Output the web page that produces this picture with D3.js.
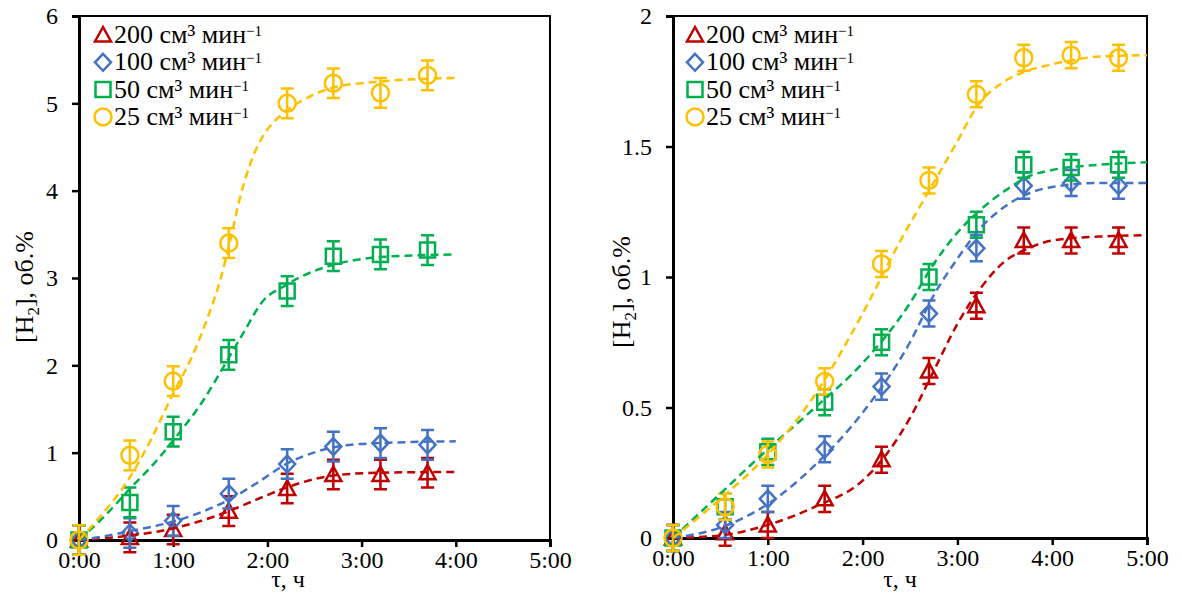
<!DOCTYPE html>
<html>
<head>
<meta charset="utf-8">
<script src="https://cdn.jsdelivr.net/npm/d3@7"></script>
<style>
  body { margin: 0; background: #fff; }
  text { font-family: "Liberation Serif", "Times New Roman", serif; fill: #000; }
</style>
</head>
<body>
<script>
// sample times, hours
var timesLeft = [0, 0.54, 1.0, 1.59, 2.21, 2.7, 3.2, 3.7];
var timesRight = [0, 0.55, 1.0, 1.6, 2.2, 2.7, 3.2, 3.7, 4.2, 4.7];

// flow rates (legend)
var seriesNames = ["200", "100", "50", "25"];
var seriesColors = ["#C00000", "#4472C4", "#00B050", "#FFC000"];
var seriesShapes = ["triangle", "diamond", "square", "circle"];

// left panel, [H2] vol.%
var left200 = [0, 0.03, 0.12, 0.33, 0.59, 0.75, 0.75, 0.77];
var left100 = [0, 0.08, 0.22, 0.53, 0.87, 1.07, 1.11, 1.09];
var left50 = [0, 0.43, 1.24, 2.12, 2.85, 3.25, 3.27, 3.32];
var left25 = [0, 0.97, 1.82, 3.4, 5.0, 5.23, 5.12, 5.32];
var leftErr = 0.17;

// right panel, [H2] vol.%
var right200 = [0, 0.02, 0.05, 0.15, 0.30, 0.64, 0.89, 1.14, 1.14, 1.14];
var right100 = [0, 0.05, 0.15, 0.34, 0.58, 0.86, 1.11, 1.35, 1.36, 1.35];
var right50 = [0, 0.12, 0.33, 0.52, 0.75, 1.00, 1.20, 1.43, 1.42, 1.43];
var right25 = [0, 0.12, 0.32, 0.60, 1.05, 1.37, 1.70, 1.84, 1.85, 1.84];
var rightErr = 0.05;

// fitted curves, [time, value]
var fitLeft200 = [[0,0],[0.53,0.05],[1.03,0.14],[1.3,0.22],[1.59,0.33],[1.9,0.47],[2.2,0.6],[2.55,0.71],[2.8,0.75],[3.2,0.77],[4.0,0.78]];
var fitLeft100 = [[0,0],[0.25,0.04],[0.53,0.1],[1.03,0.22],[1.3,0.32],[1.59,0.46],[1.9,0.66],[2.2,0.87],[2.55,1.02],[2.8,1.08],[3.2,1.11],[4.0,1.13]];
var fitLeft50 = [[0,0],[0.25,0.25],[0.56,0.61],[0.8,0.88],[1.03,1.18],[1.32,1.6],[1.56,2.03],[1.75,2.38],[1.94,2.72],[2.2,2.92],[2.45,3.06],[2.7,3.15],[3.2,3.24],[4.0,3.27]];
var fitLeft25 = [[0,0],[0.25,0.3],[0.5,0.65],[0.75,1.12],[1.0,1.68],[1.2,2.1],[1.35,2.5],[1.5,2.98],[1.6,3.4],[1.7,3.88],[1.8,4.25],[1.9,4.52],[2.0,4.7],[2.15,4.87],[2.35,5.02],[2.7,5.18],[3.2,5.25],[4.0,5.29]];

var fitRight200 = [[0,0],[0.5,0.01],[1.0,0.05],[1.5,0.12],[2.0,0.22],[2.25,0.32],[2.5,0.46],[2.75,0.64],[3.0,0.82],[3.25,0.96],[3.5,1.06],[3.75,1.11],[4.0,1.14],[4.5,1.155],[5.0,1.16]];
var fitRight100 = [[0,0],[0.5,0.04],[1.0,0.13],[1.5,0.28],[2.0,0.48],[2.5,0.75],[2.75,0.93],[3.0,1.07],[3.25,1.19],[3.5,1.27],[3.75,1.32],[4.0,1.345],[4.5,1.36],[5.0,1.36]];
var fitRight50 = [[0,0],[0.5,0.17],[1.0,0.34],[1.5,0.5],[2.0,0.67],[2.5,0.9],[2.75,1.05],[3.0,1.17],[3.25,1.26],[3.5,1.33],[3.75,1.385],[4.0,1.41],[4.5,1.43],[5.0,1.44]];
var fitRight25 = [[0,0],[0.5,0.15],[1.0,0.32],[1.5,0.55],[2.0,0.86],[2.4,1.14],[2.7,1.33],[3.0,1.52],[3.2,1.65],[3.5,1.75],[3.7,1.785],[4.0,1.815],[4.2,1.83],[4.5,1.845],[5.0,1.85]];

var xTicks = [0, 1, 2, 3, 4, 5];
var yTicksLeft = [0, 1, 2, 3, 4, 5, 6];
var yTicksRight = [0, 0.5, 1, 1.5, 2];

var width = 1182, height = 594;

var svg = d3.select("body").append("svg")
    .attr("width", width)
    .attr("height", height);

//marker path centred on 0,0
function markerPath(shape){
    if (shape == "triangle") return "M0,-8L8,6.5L-8,6.5Z";
    if (shape == "diamond") return "M0,-8.5L8,0L0,8.5L-8,0Z";
    if (shape == "square") return "M-7.5,-7.5H7.5V7.5H-7.5Z";
    return "M8.5,0A8.5,8.5 0 1,1 -8.5,0A8.5,8.5 0 1,1 8.5,0Z";
}

function drawPanel(p){
    var x = d3.scaleLinear().domain([0, 5]).range([p.left, p.right]);
    var y = d3.scaleLinear().domain(p.yDomain).range([p.bottom, p.top]);

    var g = svg.append("g");

    //frame
    g.append("rect")
        .attr("x", p.left).attr("y", p.top)
        .attr("width", p.right - p.left).attr("height", p.bottom - p.top)
        .attr("fill", "none").attr("stroke", "#000").attr("stroke-width", 2);

    //axes
    var yAxis = g.append("g")
        .attr("transform", "translate(" + p.left + ",0)")
        .call(d3.axisLeft(y).tickValues(p.yTicks).tickSize(7).tickPadding(14)
            .tickFormat(function(d){ return d; }));
    var xAxis = g.append("g")
        .attr("transform", "translate(0," + p.bottom + ")")
        .call(d3.axisBottom(x).tickValues(xTicks).tickSize(7).tickPadding(4)
            .tickFormat(function(d){ return d + ":00"; }));
    [yAxis, xAxis].forEach(function(a){
        a.select(".domain").attr("stroke-width", 3);
        a.selectAll(".tick line").attr("stroke-width", 2.5);
        a.selectAll("text").style("font-family", "Liberation Serif, serif").style("font-size", "24px").attr("fill", "#000");
    });

    //axis titles
    g.append("text")
        .attr("x", p.xTitleX).attr("y", 587)
        .attr("text-anchor", "middle")
        .style("font-size", "24px")
        .text("τ, ч");

    var yt = g.append("text")
        .attr("transform", "translate(" + p.yTitleX + "," + p.yTitleY + ") rotate(-90)")
        .attr("text-anchor", "middle")
        .style("font-size", "26px");
    yt.append("tspan").text("[H");
    yt.append("tspan").attr("dy", 6).style("font-size", "17px").text("2");
    yt.append("tspan").attr("dy", -6).text("], об.%");

    //points with error bars
    var line = d3.line()
        .x(function(d){ return x(d[0]); })
        .y(function(d){ return y(d[1]); })
        .curve(d3.curveMonotoneX);

    p.values.forEach(function(vals, i){
        var col = seriesColors[i];
        var pts = vals.map(function(v, j){ return {t: p.times[j], v: v}; });
        var sg = g.append("g");

        sg.selectAll(".err")
            .data(pts).enter()
            .append("path")
            .attr("d", function(d){
                var xx = x(d.t), y1 = y(d.v + p.err), y2 = y(d.v - p.err);
                return "M" + (xx - 6.5) + "," + y1 + "H" + (xx + 6.5) +
                    "M" + xx + "," + y1 + "V" + y2 +
                    "M" + (xx - 6.5) + "," + y2 + "H" + (xx + 6.5);
            })
            .attr("fill", "none").attr("stroke", col).attr("stroke-width", 2.5);

        sg.selectAll(".pt")
            .data(pts).enter()
            .append("path")
            .attr("transform", function(d){ return "translate(" + x(d.t) + "," + y(d.v) + ")"; })
            .attr("d", markerPath(seriesShapes[i]))
            .attr("fill", "none").attr("stroke", col).attr("stroke-width", 2.5);
    });

    //fitted curves on top
    p.fits.forEach(function(f, i){
        g.append("path")
            .datum(f)
            .attr("d", line)
            .attr("fill", "none")
            .attr("stroke", seriesColors[i])
            .attr("stroke-width", 2.5)
            .attr("stroke-dasharray", "8,5");
    });

    //legend
    seriesNames.forEach(function(name, i){
        var ly = p.legendY + i * 27.3;
        g.append("path")
            .attr("transform", "translate(" + p.legendX + "," + ly + ")")
            .attr("d", markerPath(seriesShapes[i]))
            .attr("fill", "none").attr("stroke", seriesColors[i]).attr("stroke-width", 2.5);
        var t = g.append("text")
            .attr("x", p.legendX + 11).attr("y", ly + 8)
            .style("font-size", "26px");
        t.append("tspan").text(name + " см³ мин");
        t.append("tspan").attr("dy", -7).style("font-size", "15px").text("−1");
    });
}

drawPanel({
    left: 79, right: 550, top: 16, bottom: 540,
    yDomain: [0, 6], yTicks: yTicksLeft,
    times: timesLeft,
    values: [left200, left100, left50, left25],
    fits: [fitLeft200, fitLeft100, fitLeft50, fitLeft25],
    err: leftErr,
    legendX: 103, legendY: 35,
    xTitleX: 288, yTitleX: 33, yTitleY: 287
});

drawPanel({
    left: 673, right: 1147, top: 16, bottom: 538,
    yDomain: [0, 2], yTicks: yTicksRight,
    times: timesRight,
    values: [right200, right100, right50, right25],
    fits: [fitRight200, fitRight100, fitRight50, fitRight25],
    err: rightErr,
    legendX: 695, legendY: 35,
    xTitleX: 900, yTitleX: 630, yTitleY: 292
});
</script>
</body>
</html>
